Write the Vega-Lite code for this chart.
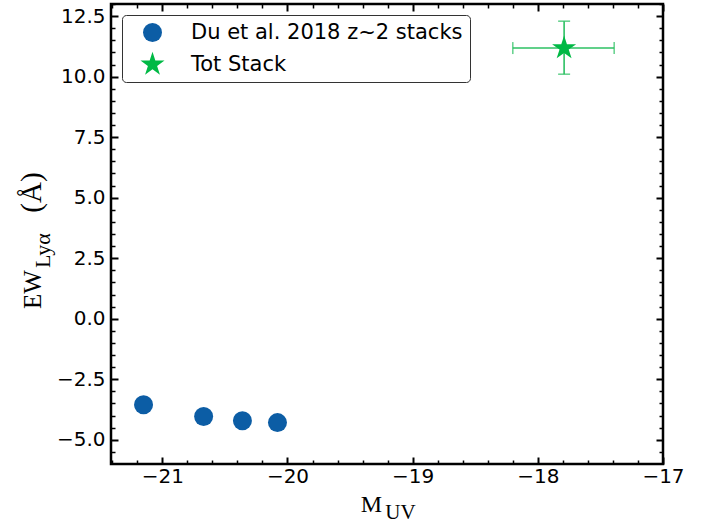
{
  "$schema": "https://vega.github.io/schema/vega-lite/v6.json",
  "width": 552,
  "height": 460,
  "autosize": {"type": "none"},
  "padding": {"left": 111, "top": 4, "right": 50, "bottom": 63},
  "background": "white",
  "config": {
    "view": {"stroke": "black", "strokeWidth": 2.5},
    "axis": {"domain": false, "grid": false, "tickColor": "black", "labelColor": "black", "titleColor": "black", "labelFont": "DejaVu Sans", "labelFontSize": 20, "titleFont": "Liberation Serif", "titleFontWeight": "normal"},
    "legend": {"orient": "top-left", "offset": 11, "strokeColor": "#333333", "strokeWidth": 1, "cornerRadius": 4, "padding": 7, "symbolOffset": 10, "labelFont": "DejaVu Sans", "labelFontSize": 21, "labelColor": "black", "labelOffset": 25, "labelLimit": 0, "rowPadding": 8, "fillColor": "white"}
  },
  "data": {"values": [
    {"series": "Du et al. 2018 z~2 stacks", "muv": -21.15, "ew": -3.55},
    {"series": "Du et al. 2018 z~2 stacks", "muv": -20.67, "ew": -4.04},
    {"series": "Du et al. 2018 z~2 stacks", "muv": -20.36, "ew": -4.21},
    {"series": "Du et al. 2018 z~2 stacks", "muv": -20.08, "ew": -4.29},
    {"series": "Tot Stack", "muv": -17.79, "ew": 11.18, "xlo": -18.2, "xhi": -17.39, "ylo": 10.1, "yhi": 12.29}
  ]},
  "resolve": {"axis": {"x": "independent", "y": "independent"}},
  "layer": [
    {
      "transform": [{"filter": "datum.series === 'Tot Stack'"}],
      "mark": {"type": "rule", "color": "#2cc063", "strokeWidth": 1.6},
      "encoding": {
        "x": {"field": "xlo", "type": "quantitative", "scale": {"domain": [-21.41, -17], "nice": false, "zero": false}, "axis": null},
        "x2": {"field": "xhi"},
        "y": {"field": "ew", "type": "quantitative", "scale": {"domain": [-6, 13], "nice": false, "zero": false}, "axis": null}
      }
    },
    {
      "transform": [{"filter": "datum.series === 'Tot Stack'"}],
      "mark": {"type": "rule", "color": "#2cc063", "strokeWidth": 1.6},
      "encoding": {
        "x": {"field": "muv", "type": "quantitative", "scale": {"domain": [-21.41, -17], "nice": false, "zero": false}, "axis": null},
        "y": {"field": "ylo", "type": "quantitative", "scale": {"domain": [-6, 13], "nice": false, "zero": false}, "axis": null},
        "y2": {"field": "yhi"}
      }
    },
    {
      "transform": [{"filter": "datum.series === 'Tot Stack'"}],
      "mark": {"type": "tick", "orient": "vertical", "color": "#2cc063", "size": 12, "thickness": 1.6},
      "encoding": {
        "x": {"field": "xlo", "type": "quantitative", "scale": {"domain": [-21.41, -17], "nice": false, "zero": false}, "axis": null},
        "y": {"field": "ew", "type": "quantitative", "scale": {"domain": [-6, 13], "nice": false, "zero": false}, "axis": null}
      }
    },
    {
      "transform": [{"filter": "datum.series === 'Tot Stack'"}],
      "mark": {"type": "tick", "orient": "vertical", "color": "#2cc063", "size": 12, "thickness": 1.6},
      "encoding": {
        "x": {"field": "xhi", "type": "quantitative", "scale": {"domain": [-21.41, -17], "nice": false, "zero": false}, "axis": null},
        "y": {"field": "ew", "type": "quantitative", "scale": {"domain": [-6, 13], "nice": false, "zero": false}, "axis": null}
      }
    },
    {
      "transform": [{"filter": "datum.series === 'Tot Stack'"}],
      "mark": {"type": "tick", "orient": "horizontal", "color": "#2cc063", "size": 12, "thickness": 1.6},
      "encoding": {
        "x": {"field": "muv", "type": "quantitative", "scale": {"domain": [-21.41, -17], "nice": false, "zero": false}, "axis": null},
        "y": {"field": "ylo", "type": "quantitative", "scale": {"domain": [-6, 13], "nice": false, "zero": false}, "axis": null}
      }
    },
    {
      "transform": [{"filter": "datum.series === 'Tot Stack'"}],
      "mark": {"type": "tick", "orient": "horizontal", "color": "#2cc063", "size": 12, "thickness": 1.6},
      "encoding": {
        "x": {"field": "muv", "type": "quantitative", "scale": {"domain": [-21.41, -17], "nice": false, "zero": false}, "axis": null},
        "y": {"field": "yhi", "type": "quantitative", "scale": {"domain": [-6, 13], "nice": false, "zero": false}, "axis": null}
      }
    },
    {
      "mark": {"type": "point", "filled": true, "opacity": 1},
      "encoding": {
        "x": {"field": "muv", "type": "quantitative", "scale": {"domain": [-21.41, -17], "nice": false, "zero": false},
          "axis": {"orient": "bottom", "values": [-21, -20, -19, -18, -17], "format": "d", "tickSize": -7, "tickWidth": 2, "labelPadding": 9, "labelFlush": false, "labelExpr": "replace(datum.label, '-', '\u2212')", "title": "M", "titleFontSize": 24, "titleAlign": "center", "titleBaseline": "alphabetic", "titleX": 260, "titleY": 47}},
        "y": {"field": "ew", "type": "quantitative", "scale": {"domain": [-6, 13], "nice": false, "zero": false},
          "axis": {"orient": "left", "values": [-5, -2.5, 0, 2.5, 5, 7.5, 10, 12.5], "format": ".1f", "tickSize": -7, "tickWidth": 2, "labelPadding": 13, "labelFlush": false, "labelExpr": "replace(datum.label, '-', '\u2212')", "title": "EW", "titleFontSize": 25, "titleAngle": -90, "titleAlign": "center", "titleBaseline": "alphabetic", "titleX": -71, "titleY": 285}},
        "shape": {"field": "series", "type": "nominal", "scale": {"domain": ["Du et al. 2018 z~2 stacks", "Tot Stack"], "range": ["circle", "M0,-1L0.2245,-0.309L0.951,-0.309L0.363,0.118L0.588,0.809L0,0.382L-0.588,0.809L-0.363,0.118L-0.951,-0.309L-0.2245,-0.309Z"]}, "legend": {"title": null}},
        "color": {"field": "series", "type": "nominal", "scale": {"domain": ["Du et al. 2018 z~2 stacks", "Tot Stack"], "range": ["#0c5da5", "#00b945"]}, "legend": {"title": null}},
        "size": {"field": "series", "type": "nominal", "scale": {"domain": ["Du et al. 2018 z~2 stacks", "Tot Stack"], "range": [361, 640]}, "legend": {"title": null}}
      }
    },
    {
      "mark": {"type": "point", "opacity": 0},
      "encoding": {
        "x": {"field": "muv", "type": "quantitative", "scale": {"domain": [-21.41, -17], "nice": false, "zero": false},
          "axis": {"orient": "bottom", "values": [-21.4, -21.2, -20.8, -20.6, -20.4, -20.2, -19.8, -19.6, -19.4, -19.2, -18.8, -18.6, -18.4, -18.2, -17.8, -17.6, -17.4, -17.2], "labels": false, "tickSize": -4, "tickWidth": 1.5, "title": "UV", "titleFont": "Liberation Serif", "titleFontSize": 21, "titleAlign": "center", "titleBaseline": "alphabetic", "titleX": 289, "titleY": 54}},
        "y": {"field": "ew", "type": "quantitative", "scale": {"domain": [-6, 13], "nice": false, "zero": false},
          "axis": {"orient": "left", "values": [-5.5, -4.5, -4, -3.5, -3, -2, -1.5, -1, -0.5, 0.5, 1, 1.5, 2, 3, 3.5, 4, 4.5, 5.5, 6, 6.5, 7, 8, 8.5, 9, 9.5, 10.5, 11, 11.5, 12, 13], "labels": false, "tickSize": -4, "tickWidth": 1.5, "title": "Lyα", "titleFontSize": 22, "titleAngle": -90, "titleAlign": "center", "titleBaseline": "alphabetic", "titleX": -62, "titleY": 246}}
      }
    },
    {
      "mark": {"type": "point", "opacity": 0},
      "encoding": {
        "x": {"field": "muv", "type": "quantitative", "scale": {"domain": [-21.41, -17], "nice": false, "zero": false},
          "axis": {"orient": "top", "values": [-21, -20, -19, -18, -17], "labels": false, "tickSize": -7, "tickWidth": 2, "title": null}},
        "y": {"field": "ew", "type": "quantitative", "scale": {"domain": [-6, 13], "nice": false, "zero": false},
          "axis": {"orient": "right", "values": [-5, -2.5, 0, 2.5, 5, 7.5, 10, 12.5], "labels": false, "tickSize": -7, "tickWidth": 2, "title": null}}
      }
    },
    {
      "mark": {"type": "point", "opacity": 0},
      "encoding": {
        "x": {"field": "muv", "type": "quantitative", "scale": {"domain": [-21.41, -17], "nice": false, "zero": false},
          "axis": {"orient": "top", "values": [-21.4, -21.2, -20.8, -20.6, -20.4, -20.2, -19.8, -19.6, -19.4, -19.2, -18.8, -18.6, -18.4, -18.2, -17.8, -17.6, -17.4, -17.2], "labels": false, "tickSize": -4, "tickWidth": 1.5, "title": null}},
        "y": {"field": "ew", "type": "quantitative", "scale": {"domain": [-6, 13], "nice": false, "zero": false},
          "axis": {"orient": "right", "values": [-5.5, -4.5, -4, -3.5, -3, -2, -1.5, -1, -0.5, 0.5, 1, 1.5, 2, 3, 3.5, 4, 4.5, 5.5, 6, 6.5, 7, 8, 8.5, 9, 9.5, 10.5, 11, 11.5, 12, 13], "labels": false, "tickSize": -4, "tickWidth": 1.5, "title": "(Å)", "titleFont": "Liberation Serif", "titleFontSize": 29, "titleAngle": -90, "titleAlign": "center", "titleBaseline": "alphabetic", "titleX": -623, "titleY": 188}}
      }
    }
  ]
}
